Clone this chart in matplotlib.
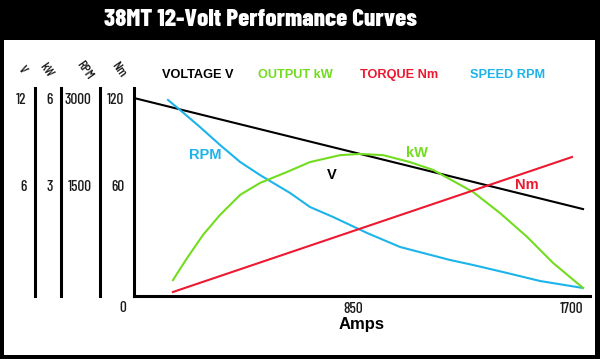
import matplotlib.pyplot as plt
from matplotlib.patches import Rectangle

# Courbes (échelle commune : 12 V = 6 kW = 3000 RPM = 120 Nm)
volt_amps = [0, 1743]
volt_v = [12.0, 4.34]

rpm_amps = [132, 179, 256, 334, 412, 489, 606, 683, 773, 905, 1033, 1227, 1316, 1448, 1576, 1743]
rpm_vals = [2966, 2793, 2500, 2190, 1897, 1672, 1362, 1121, 948, 672, 431, 207, 121, -17, -155, -276]

kw_amps = [151, 206, 268, 334, 412, 489, 594, 683, 800, 877, 967, 1071, 1161, 1316, 1421, 1526, 1627, 1743]
kw_vals = [-0.28, 0.48, 1.28, 1.97, 2.66, 3.07, 3.45, 3.79, 4.03, 4.07, 4.03, 3.79, 3.52, 2.76, 2.03, 1.21, 0.31, -0.55]

nm_amps = [151, 1700]
nm_vals = [-13.8, 79.3]

amp_ticks = [850, 1700]
col_names = ["V", "kW", "RPM", "Nm"]
col_ticks = [[6, 12], [3, 6], [1500, 3000], [60, 120]]
col_scale = [0.1, 0.05, 25, 1]   # facteur par rapport à l'échelle Nm

W, H = 600, 359
COND = ['Barlow Condensed', 'DejaVu Sans']
BOLD = ['Liberation Sans', 'DejaVu Sans']
TXT = '#1a1a1a'
C_V, C_KW, C_NM, C_RPM = 'black', '#72dc1e', '#ee1830', '#1cb4ea'


def px_box(left, top, right, bottom):
    return [left / W, 1 - bottom / H, (right - left) / W, (bottom - top) / H]


fig = plt.figure(figsize=(W / 100, H / 100), dpi=100, facecolor='black')
fig.patches.append(Rectangle((4 / W, 1 - 355 / H), 591 / W, 315 / H,
                             transform=fig.transFigure, facecolor='white',
                             edgecolor='none', zorder=-5))

fig.text(261 / W, 1 - 20 / H, "38MT 12-Volt Performance Curves", color='white',
         fontsize=18, fontweight=800, family=COND, ha='center', va='center')

# Axe principal
ax = fig.add_axes(px_box(134, 88, 590, 296))
ax.set_facecolor('none')
ylim_nm = (-16.55, 126.9)
ax.set_xlim(0, 1770)
ax.set_ylim(*ylim_nm)

ax.plot(volt_amps, [v * 10 for v in volt_v], color=C_V, lw=1.5)
ax.plot(rpm_amps, [r / 25 for r in rpm_vals], color=C_RPM, lw=1.5)
ax.plot(kw_amps, [k * 20 for k in kw_vals], color=C_KW, lw=1.5)
ax.plot(nm_amps, nm_vals, color=C_NM, lw=1.5)

for s in ['top', 'right']:
    ax.spines[s].set_visible(False)
ax.spines['left'].set_linewidth(2.2)
ax.spines['bottom'].set_linewidth(2.2)
ax.set_xticks(amp_ticks)
ax.set_xticklabels([str(t) for t in amp_ticks], family=COND, fontweight=500, fontsize=11, color=TXT)
ax.tick_params(axis='x', length=0, pad=4)
ax.set_yticks(col_ticks[3])
ax.set_yticklabels([str(t) for t in col_ticks[3]], family=COND, fontweight=500, fontsize=11, color=TXT)
ax.tick_params(axis='y', length=0, pad=7)
ax.set_xlabel("Amps", family=BOLD, fontweight='bold', fontsize=12, labelpad=1)

# Étiquettes des courbes
lbl = dict(fontweight='bold', family=BOLD, fontsize=10.5, ha='center', va='center')
ax.text(276, 80.7, "RPM", color=C_RPM, **lbl)
ax.text(769, 66.9, "V", color=C_V, **lbl)
ax.text(1099, 82.1, "kW", color=C_KW, **lbl)
ax.text(1526, 60, "Nm", color=C_NM, **lbl)

# Colonnes d'échelles à gauche
for x_px, name, ticks, sc in zip([35, 61, 100], col_names[:3], col_ticks[:3], col_scale[:3]):
    cax = fig.add_axes(px_box(x_px, 88, x_px + 1, 296))
    cax.set_facecolor('none')
    cax.set_ylim(ylim_nm[0] * sc, ylim_nm[1] * sc)
    for s in ['top', 'right', 'bottom']:
        cax.spines[s].set_visible(False)
    cax.spines['left'].set_linewidth(2.2)
    cax.set_xticks([])
    cax.set_yticks(ticks)
    cax.set_yticklabels([str(t) for t in ticks], family=COND, fontweight=500, fontsize=11, color=TXT)
    cax.tick_params(axis='y', length=0, pad=6)

for x_px, name in zip([22, 46, 84, 118], col_names):
    fig.text(x_px / W, 1 - 70 / H, name, rotation=-55, family=COND, fontweight=500,
             fontsize=10, color=TXT, ha='center', va='center')

fig.text(123 / W, 1 - 308 / H, "0", family=COND, fontweight=500, fontsize=11, color=TXT,
         ha='center', va='center')

# Légende en haut
for x_px, txt, col in zip([162, 258, 360, 470],
                          ["VOLTAGE V", "OUTPUT kW", "TORQUE Nm", "SPEED RPM"],
                          [C_V, C_KW, C_NM, C_RPM]):
    fig.text(x_px / W, 1 - 75 / H, txt, color=col, fontweight='bold', family=BOLD,
             fontsize=9.2, ha='left', va='center')

fig.savefig('out.png', dpi=100, facecolor='black')
